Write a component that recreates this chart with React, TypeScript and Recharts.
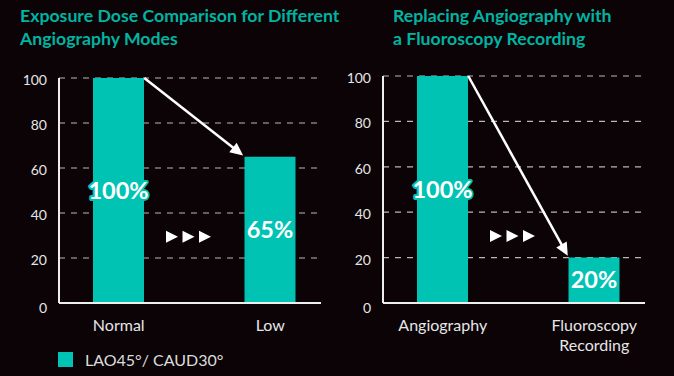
import { BarChart, Bar, XAxis, YAxis, CartesianGrid, LabelList, Legend, ReferenceLine } from 'recharts';

const seriesName = 'LAO45°/ CAUD30°';
const modeCategories = ['Normal', 'Low'];
const modeDose = [100, 65];
const recordingCategories = ['Angiography', 'Fluoroscopy Recording'];
const recordingDose = [100, 20];
const yTicks = [0, 20, 40, 60, 80, 100];

const TEAL = '#00c3b4';
const TITLE_TEAL = '#00b4a2';
const BG = '#0b0306';
const TEXT = '#e6e6e6';
const FONT = 'Lato, "Open Sans", sans-serif';
const BAR_SIZE = 51;
const MARK_LEVEL = 29.5; // where the ▶▶▶ sits, in axis units

function CategoryTick({ x, y, payload }: any) {
  const words = String(payload.value).split(' ');
  return (
    <text x={x} y={y} textAnchor="middle" fill={TEXT} fontSize={16} fontFamily={FONT}>
      {words.map((w, i) => (
        <tspan key={i} x={x} dy={i === 0 ? 27.5 : 20}>
          {w}
        </tspan>
      ))}
    </text>
  );
}

function ValueTick({ x, y, payload }: any) {
  return (
    <text x={x} y={y} dy={payload.value === 0 ? 10 : 7} textAnchor="end" fill={TEXT} fontSize={14} fontFamily={FONT}>
      {payload.value}
    </text>
  );
}

function PercentLabel(props: any) {
  const vb = props.viewBox ?? props;
  const cx = vb.x + vb.width / 2;
  const cy = vb.y + vb.height / 2;
  return (
    <text
      x={cx}
      y={cy}
      dy={8}
      textAnchor="middle"
      fill="#ffffff"
      stroke={TEAL}
      strokeWidth={4}
      strokeLinejoin="round"
      style={{ paintOrder: 'stroke' }}
      fontSize={23.5}
      fontWeight="bold"
      fontFamily={FONT}
    >
      {`${props.value}%`}
    </text>
  );
}

function SeriesLegend({ payload }: any) {
  return (
    <div style={{ display: 'flex', alignItems: 'center', height: 26, paddingLeft: 58, fontFamily: FONT, fontSize: 16, color: '#dcdcdc' }}>
      {(payload ?? []).map((entry: any) => (
        <span key={entry.value} style={{ display: 'flex', alignItems: 'center' }}>
          <span style={{ width: 15, height: 15, background: entry.color, marginRight: 12 }} />
          {entry.value}
        </span>
      ))}
    </div>
  );
}

// arrow from the top-right corner of the first bar to the top-left corner of the second
function makeArrow(values: number[]) {
  return (props: any) => {
    const { x1, y1, x2, y2 } = props;
    const sx = x1 + BAR_SIZE / 2;
    const ex = x2 - BAR_SIZE / 2;
    const dx = ex - sx;
    const dy = y2 - y1;
    const len = Math.hypot(dx, dy);
    const ux = dx / len;
    const uy = dy / len;
    const tipX = ex - ux * 2;
    const tipY = y2 - uy * 2;
    const head = 13;
    const half = 6;
    const bx = tipX - ux * head;
    const by = tipY - uy * head;
    const perUnit = (y2 - y1) / (values[0] - values[1]);
    const markY = y1 + (values[0] - MARK_LEVEL) * perUnit;
    const markX = (sx + ex) / 2 - 6 - 22.5;
    return (
      <g>
        <line x1={sx} y1={y1} x2={bx + ux * 2} y2={by + uy * 2} stroke="#ffffff" strokeWidth={2.5} />
        <polygon
          points={`${tipX},${tipY} ${bx - uy * half},${by + ux * half} ${bx + uy * half},${by - ux * half}`}
          fill="#ffffff"
        />
        {[0, 1, 2].map((i) => {
          const tx = markX + i * 16.5;
          return <polygon key={i} points={`${tx},${markY - 6} ${tx + 12},${markY} ${tx},${markY + 6}`} fill="#ffffff" />;
        })}
      </g>
    );
  };
}

interface DoseChartProps {
  categories: string[];
  values: number[];
  top: number;
  showLegend?: boolean;
}

function DoseChart({ categories, values, top, showLegend }: DoseChartProps) {
  const data = categories.map((name, i) => ({ name, dose: values[i] }));
  return (
    <BarChart
      width={337}
      height={376}
      data={data}
      margin={{ top, right: 16, bottom: showLegend ? 0 : 26, left: 0 }}
      barSize={BAR_SIZE}
    >
      <CartesianGrid vertical={false} stroke="#bdb5b5" strokeDasharray="6 6" strokeWidth={1.2} />
      <XAxis
        dataKey="name"
        interval={0}
        height={47}
        padding={{ left: -16, right: -25 }}
        axisLine={{ stroke: '#eeeeee', strokeWidth: 2 }}
        tickLine={false}
        tickSize={0}
        tickMargin={0}
        tick={<CategoryTick />}
      />
      <YAxis
        width={59}
        domain={[0, 100]}
        ticks={yTicks}
        axisLine={{ stroke: '#eeeeee', strokeWidth: 2 }}
        tickLine={false}
        tickSize={0}
        tickMargin={12}
        tick={<ValueTick />}
      />
      <Bar dataKey="dose" name={seriesName} fill={TEAL} isAnimationActive={false}>
        <LabelList dataKey="dose" position="center" content={PercentLabel} />
      </Bar>
      <ReferenceLine
        segment={[
          { x: categories[0], y: values[0] },
          { x: categories[1], y: values[1] },
        ]}
        ifOverflow="visible"
        shape={makeArrow(values)}
      />
      {showLegend && (
        <Legend verticalAlign="bottom" align="left" content={<SeriesLegend />} wrapperStyle={{ left: 0, bottom: 4 }} />
      )}
    </BarChart>
  );
}

const titleStyle: React.CSSProperties = {
  position: 'absolute',
  top: 5,
  color: TITLE_TEAL,
  fontFamily: FONT,
  fontWeight: 'bold',
  fontSize: 17.7,
  lineHeight: '22.6px',
  whiteSpace: 'nowrap',
};

export default function App() {
  return (
    <div style={{ position: 'relative', width: 674, height: 376, background: BG, overflow: 'hidden' }}>
      <style>{'body{margin:0}'}</style>
      <div style={{ ...titleStyle, left: 20 }}>
        Exposure Dose Comparison for Different
        <br />
        Angiography Modes
      </div>
      <div style={{ ...titleStyle, left: 393 }}>
        Replacing Angiography with
        <br />a Fluoroscopy Recording
      </div>
      <div style={{ position: 'absolute', left: 0, top: 0 }}>
        <DoseChart categories={modeCategories} values={modeDose} top={78} showLegend />
      </div>
      <div style={{ position: 'absolute', left: 324, top: 0 }}>
        <DoseChart categories={recordingCategories} values={recordingDose} top={76} />
      </div>
    </div>
  );
}
